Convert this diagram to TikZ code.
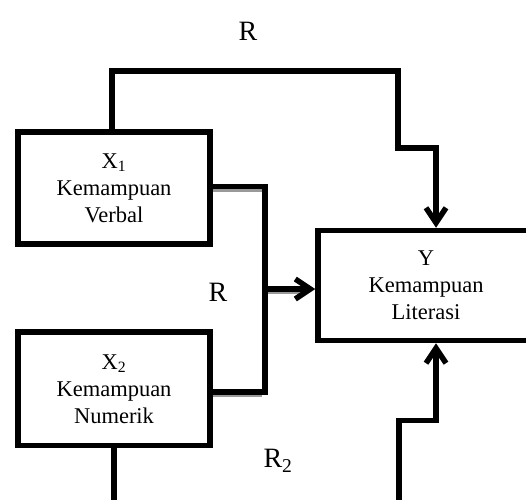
\documentclass[tikz,border=0pt]{standalone}
\usepackage{fontspec}
\setmainfont{Liberation Serif}
\usetikzlibrary{arrows.meta}
\begin{document}
\begin{tikzpicture}[x=1pt, y=-1pt,
  line width=5.5pt,
  box/.style={draw, rectangle, inner sep=0pt, align=center,
    font=\fontsize{22.5}{27}\selectfont},
  lbl/.style={inner sep=0pt, font=\fontsize{28}{32}\selectfont},
  arr/.style={-{Straight Barb[length=15pt,width=20pt]}},
  shade/.style={draw=black!40, line width=3pt}]
\clip (0,0) rectangle (526,499);

% variables
\node[box, minimum width=192pt, minimum height=112pt] (x1) at (114,188)
  {X\textsubscript{1}\\Kemampuan\\Verbal};
\node[box, minimum width=192pt, minimum height=113.5pt] (x2) at (114,388.75)
  {X\textsubscript{2}\\Kemampuan\\Numerik};
\node[box, minimum width=216pt, minimum height=110pt] (y) at (426,285.5)
  {Y\\Kemampuan\\Literasi};

% path labels
\node[lbl] (r1) at (248,31) {R};
\node[lbl] (r2) at (218,292) {R};
\node[lbl] (r3) at (278,461) {R\textsubscript{2}};

% grey shadows under the joint connector
\draw[shade] (x1.east |- 0,190) -- (262,190);
\draw[shade] (x2.east |- 0,395.5) -- (262,395.5);
\draw[shade] (268,292.5) -- (300,292.5);

% X1 -> Y over the top
\draw[arr] ([xshift=-2pt]x1.north) |- (398,71) |- (436,148) -- (y.north -| 436,0);

% X1 and X2 joint -> Y
\draw (x1.east |- 0,186.5) -| (265,392) -- (x2.east |- 0,392);
\draw[arr] (265,289) -- (y.west |- 0,289);

% X2 -> Y along the bottom
\draw (x2.south) -- ++(0,70);
\coordinate (b) at (399,510);
\draw[arr] (b) |- (436,420.5) -- (y.south -| 436,0);
\end{tikzpicture}
\end{document}
